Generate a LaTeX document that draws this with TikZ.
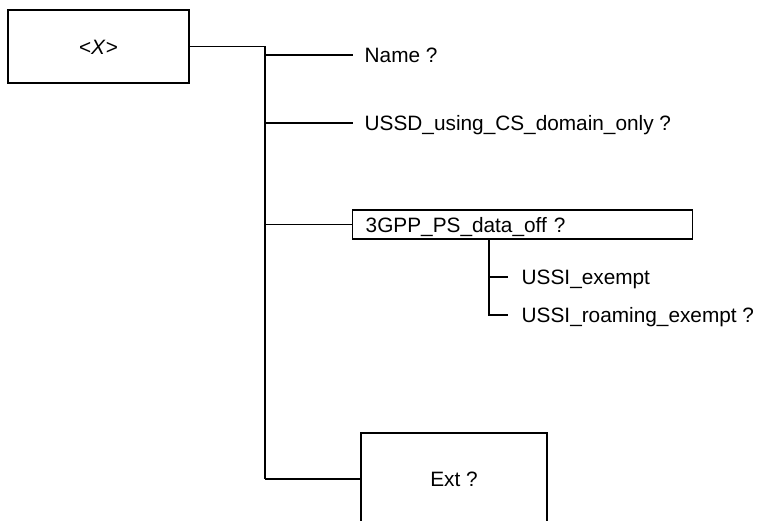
\documentclass[tikz,border=0pt]{standalone}
\usepackage{fontspec}
\setmainfont{Liberation Sans}
\begin{document}
\begin{tikzpicture}[x=1pt,y=-1pt,line width=1.4pt,
  every node/.style={font=\fontsize{20.8}{25}\selectfont, text height=15pt, text depth=0pt},
  boxnode/.style={draw, inner sep=0pt},
  lbl/.style={anchor=west, inner ysep=0pt, inner xsep=11pt}]
\useasboundingbox (0,0) rectangle (758,520);
% root box
\node[boxnode, minimum width=181pt, minimum height=73pt] (X) at (98.5,46.5) {<\textit{X}>};
% trunk
\coordinate (jExt) at (265,479);
\draw (X.east) -| (jExt);
% Name
\coordinate (jName) at (265,55);
\node[lbl] (name) at (353,55) {Name ?};
\draw (jName) -- (name.west);
% USSD
\coordinate (jUssd) at (265,123);
\node[lbl] (ussd) at (353,123) {USSD\_using\_CS\_domain\_only ?};
\draw (jUssd) -- (ussd.west);
% 3GPP box
\coordinate (jGpp) at (265,224.5);
\node[boxnode, anchor=west, minimum height=29pt, inner xsep=13pt, text width=314pt, align=left] (gpp) at (352,224.5) {3GPP\_PS\_data\_off ?};
\draw (jGpp) -- (gpp.west);
% sub items
\coordinate (s0) at (489,239);
\node[anchor=west, inner ysep=0pt, inner xsep=13pt] (exempt) at (508,277) {USSI\_exempt};
\node[anchor=west, inner ysep=0pt, inner xsep=13pt] (roam) at (508,315) {USSI\_roaming\_exempt ?};
\draw (s0) |- (roam.west);
\draw (s0 |- exempt.west) -- (exempt.west);
% Ext box
\node[boxnode, minimum width=186pt, minimum height=92pt] (ext) at (454,479) {Ext ?};
\draw (jExt) -- (ext.west);
\end{tikzpicture}
\end{document}
